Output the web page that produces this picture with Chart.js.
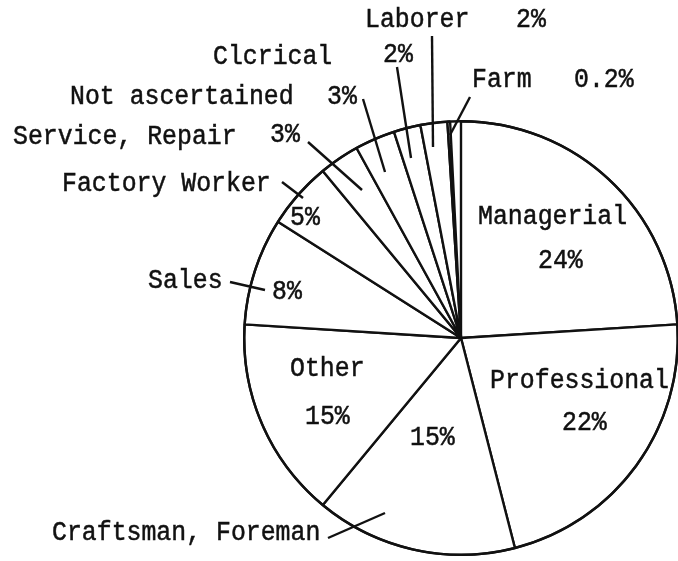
<!DOCTYPE html>
<html>
<head>
<meta charset="utf-8">
<script src="https://cdn.jsdelivr.net/npm/chart.js@4.4.0/dist/chart.umd.min.js"></script>
<style>
  html, body { margin: 0; padding: 0; background: #fff; overflow: hidden; }
  #wrap { width: 700px; height: 580px; position: relative; }
</style>
</head>
<body>
<div id="wrap"><canvas id="occChart"></canvas></div>
<script>
// occupation groups, clockwise from 12 o'clock
const categories = ['Managerial', 'Professional', 'Craftsman, Foreman', 'Other', 'Sales',
    'Factory Worker', 'Service, Repair', 'Not ascertained', 'Clcrical', 'Laborer', 'Farm']
const percents = [24, 22, 15, 15, 8, 5, 3, 3, 2, 2, 0.2]
const percentLabels = ['24%', '22%', '15%', '15%', '8%', '5%', '3%', '3%', '2%', '2%', '0.2%']

// the values only add up to 99.2%, the rest of the circle is left empty
const totalPercent = percents.reduce((a, b) => a + b, 0)

// where the typed labels sit (page pixels), and leader lines
const labelLayout = [
    {idx: 0, name: [478, 217], pct: [538, 261]},
    {idx: 1, name: [490, 381], pct: [562, 423]},
    {idx: 2, name: [52, 533], pct: [410, 438]},
    {idx: 3, name: [290, 369], pct: [305, 417]},
    {idx: 4, name: [148, 281], pct: [272, 292]},
    {idx: 5, name: [62, 184], pct: [290, 218]},
    {idx: 6, name: [13, 137], pct: [270, 135]},
    {idx: 7, name: [70, 97], pct: [327, 97]},
    {idx: 8, name: [213, 57], pct: [383, 55]},
    {idx: 9, name: [365, 20], pct: [516, 20]},
    {idx: 10, name: [472, 80], pct: [574, 80]}
]
const leaders = [
    [432, 36, 433, 147],
    [397, 67, 411, 158],
    [470, 97, 450, 135],
    [363, 99, 385, 172],
    [308, 142, 362, 190],
    [282, 182, 303, 198],
    [230, 282, 265, 290],
    [328, 538, 385, 513]
]

const typedLabels = {
    id: 'typedLabels',
    afterDatasetsDraw(chart) {
        const ctx = chart.ctx
        const arc = chart.getDatasetMeta(0).data[0]
        ctx.save()
        ctx.strokeStyle = '#111'
        ctx.lineWidth = 2.4
        ctx.beginPath()
        ctx.arc(arc.x, arc.y, arc.outerRadius, 0, Math.PI * 2)
        ctx.stroke()
        leaders.forEach((l) => {
            ctx.beginPath()
            ctx.moveTo(l[0], l[1])
            ctx.lineTo(l[2], l[3])
            ctx.stroke()
        })
        ctx.fillStyle = '#111'
        ctx.lineWidth = 0.5
        ctx.font = '27px "Liberation Mono", "DejaVu Sans Mono", monospace'
        ctx.textAlign = 'left'
        ctx.textBaseline = 'middle'
        const put = (txt, p) => {
            ctx.save()
            ctx.translate(p[0], p[1])
            ctx.scale(0.92, 1)
            ctx.fillText(txt, 0, 0)
            ctx.strokeText(txt, 0, 0)
            ctx.restore()
        }
        labelLayout.forEach((l) => {
            put(categories[l.idx], l.name)
            put(percentLabels[l.idx], l.pct)
        })
        ctx.restore()
    }
}

const ctxChart = document.getElementById('occChart')

new Chart(ctxChart, {
    type: 'pie',
    data: {
        labels: categories,
        datasets: [{
            data: percents,
            backgroundColor: '#fff',
            borderColor: '#111',
            borderWidth: 2.4,
            circumference: 360 * totalPercent / 100
        }]
    },
    options: {
        responsive: true,
        maintainAspectRatio: false,
        animation: false,
        layout: {
            padding: {left: 241, right: 19, top: 120, bottom: 24}
        },
        plugins: {
            legend: {display: false},
            tooltip: {enabled: false}
        }
    },
    plugins: [typedLabels]
})
</script>
</body>
</html>
